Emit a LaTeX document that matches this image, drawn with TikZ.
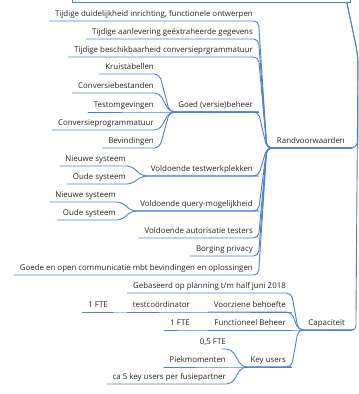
\documentclass[tikz,border=0pt]{standalone}
\usepackage{fontspec}
\setmainfont{Open Sans}
\definecolor{mmblue}{HTML}{4A80D6}
\definecolor{mmlight}{HTML}{A9C4EC}
\definecolor{mmtext}{HTML}{262626}
\newcommand\mmlink[2]{\draw[conn] (#1.south west) -- (#1.south east) -- ([xshift=-3pt]#2.south west) -- (#2.south east);}
\begin{document}
\begin{tikzpicture}[x=1pt,y=-1pt,
  lbl/.style={anchor=south east, inner xsep=5.5pt, inner ysep=2.2pt, text height=5.8pt, text depth=2.2pt, font=\fontsize{7.9}{9}\selectfont, text=mmtext},
  main/.style={lbl, inner xsep=7pt},
  conn/.style={draw=mmblue, line width=0.9pt, rounded corners=5pt, line cap=round},
  faint/.style={draw=mmlight, line width=0.9pt}]
\useasboundingbox (0,0) rectangle (359,394);
\clip (0,0) rectangle (359,394);
% root (cut off at top)
\node[draw=mmblue, line width=0.9pt, minimum width=278pt, minimum height=30pt, anchor=south west, inner sep=0pt] (root) at (72,3) {};
\coordinate (rc) at ([xshift=-4pt]root.south east);
\coordinate (trunk) at (358,55);
% main topics
\node[main] (rv) at (352,148) {Randvoorwaarden};
\node[main] (cap) at (352,330) {Capaciteit};
\draw[conn, rounded corners=10pt] (rc) -- (trunk) -- (358,130) .. controls (358,142) and (356,148) .. (rv.south east);
\draw[conn, rounded corners=10pt] (rc) -- (trunk) -- (356,316) .. controls (356,326) and (355,330) .. (cap.south east);
% Randvoorwaarden children
\node[lbl] (t1) at (258.5,21) {Tijdige duidelijkheid inrichting, functionele ontwerpen};
\node[lbl] (t2) at (258.5,39) {Tijdige aanlevering geëxtraheerde gegevens};
\node[lbl] (t3) at (258.5,57) {Tijdige beschikbaarheid conversieprgrammatuur};
\node[lbl] (gv) at (258.5,112) {Goed (versie)beheer};
\node[lbl] (vt) at (258.5,176) {Voldoende testwerkplekken};
\node[lbl] (vq) at (258.5,211) {Voldoende query-mogelijkheid};
\node[lbl] (va) at (258.5,238) {Voldoende autorisatie testers};
\node[lbl] (bp) at (258.5,256) {Borging privacy};
\node[lbl] (gc) at (258.5,275) {Goede en open communicatie mbt bevindingen en oplossingen};
\foreach \c in {t1,t2,t3,gv,vt,vq,va,bp,gc} {\mmlink{\c}{rv}}
% Goed (versie)beheer children
\node[lbl] (k1) at (159.5,74) {Kruistabellen};
\node[lbl] (k2) at (159.5,93) {Conversiebestanden};
\node[lbl] (k3) at (159.5,112) {Testomgevingen};
\node[lbl] (k4) at (159.5,130) {Conversieprogrammatuur};
\node[lbl] (k5) at (159.5,148) {Bevindingen};
\foreach \c in {k1,k2,k3,k4,k5} {\mmlink{\c}{gv}}
% testwerkplekken children
\node[lbl] (n1) at (131.5,166) {Nieuwe systeem};
\node[lbl] (o1) at (131.5,184) {Oude systeem};
\mmlink{n1}{vt}
\mmlink{o1}{vt}
% query children
\node[lbl] (n2) at (121.5,202) {Nieuwe systeem};
\node[lbl] (o2) at (121.5,220) {Oude systeem};
\mmlink{n2}{vq}
\mmlink{o2}{vq}
% Capaciteit children
\node[lbl] (gb) at (291.5,293) {Gebaseerd op planning t/m half juni 2018};
\node[lbl] (vb) at (291.5,312) {Voorziene behoefte};
\node[lbl] (fb) at (291.5,330) {Functioneel Beheer};
\node[lbl] (ku) at (291.5,367) {Key users};
\foreach \c in {gb,vb,fb,ku} {\mmlink{\c}{cap}}
\node[lbl] (tc) at (195.5,312) {testcoördinator};
\mmlink{tc}{vb}
\node[lbl] (f1) at (113.5,312) {1 FTE};
\draw[conn] (f1.south west) -- (f1.south east);
\draw[faint] (f1.south east) -- (tc.south west);
\node[lbl] (f2) at (195.5,330) {1 FTE};
\mmlink{f2}{fb}
% Key users children
\node[lbl] (f3) at (231.5,349) {0,5 FTE};
\node[lbl] (pk) at (231.5,367) {Piekmomenten};
\node[lbl] (ck) at (231.5,384) {ca 5 key users per fusiepartner};
\draw[conn] ([xshift=-10pt]f3.south east) -- (f3.south east) -- ([xshift=-3pt]ku.south west) -- (ku.south east);
\mmlink{pk}{ku}
\mmlink{ck}{ku}
\end{tikzpicture}
\end{document}
